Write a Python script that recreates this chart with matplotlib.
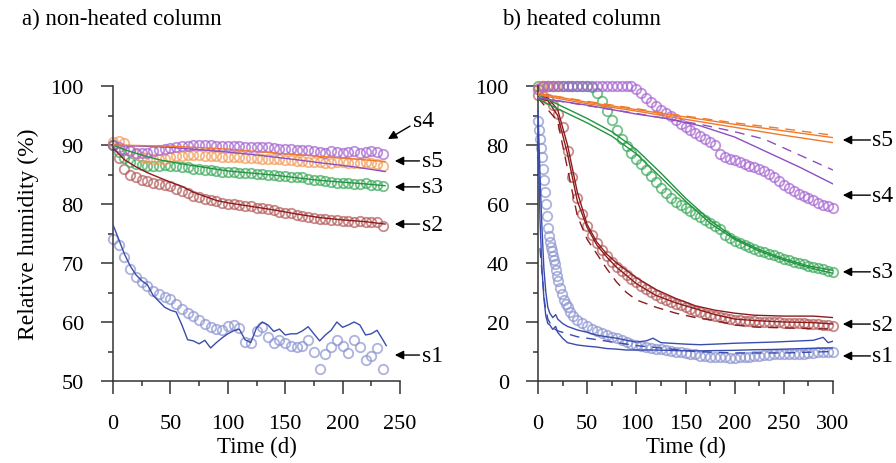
import numpy as np
import matplotlib.pyplot as plt
from matplotlib.ticker import MultipleLocator

plt.rcParams['font.family'] = ['Liberation Serif', 'DejaVu Serif']

# ---------------- a) non-heated column ----------------
a_days = np.arange(0, 240, 5)

a_s1_obs = [74, 73, 71, 69, 67.6, 66.8, 66.1, 65.3, 64.7, 64.3,
            63.9, 63, 62.2, 61.5, 61, 60.3, 59.7, 59.2, 58.8, 58.6,
            59.3, 59.5, 59, 56.6, 56.5, 58.5, 59.2, 57.5, 56.5, 57,
            56.5, 56, 55.8, 56, 57, 55, 52, 54.5, 55.8, 57,
            56, 54.8, 57, 55.8, 53.6, 54.2, 55.6, 52]
a_s2_obs = [90, 87.8, 86, 85, 84.5, 84.1, 83.9, 83.6, 83.4, 83.2,
            83, 82.6, 82.2, 81.8, 81.4, 81.2, 80.9, 80.7, 80.5, 80.2,
            80, 80, 79.8, 79.7, 79.6, 79.4, 79.4, 79.2, 79, 78.7,
            78.5, 78.4, 78.2, 78, 77.8, 77.7, 77.5, 77.4, 77.3, 77.3,
            77.2, 77.1, 77.0, 77.1, 77.0, 77.0, 76.9, 76.3]
a_s3_obs = [90, 88.8, 87.8, 87.2, 86.8, 86.6, 86.5, 86.5, 86.5, 86.6,
            86.5, 86.4, 86.3, 86.2, 86.0, 85.9, 85.8, 85.7, 85.6, 85.5,
            85.5, 85.4, 85.3, 85.2, 85.2, 85.1, 85.1, 85, 84.9, 84.8,
            84.7, 84.6, 84.5, 84.5, 84.3, 84.1, 84, 83.9, 83.7, 83.6,
            83.5, 83.5, 83.4, 83.4, 83.5, 83.3, 83.2, 83]
a_s4_obs = [90, 89.6, 89.2, 88.9, 88.7, 88.6, 88.7, 88.9, 89.1, 89.3,
            89.5, 89.7, 89.8, 89.9, 90, 90, 90, 90, 89.9, 89.9,
            89.9, 89.8, 89.8, 89.7, 89.7, 89.7, 89.7, 89.6, 89.5, 89.4,
            89.3, 89.3, 89.2, 89.2, 89.1, 89.0, 88.8, 88.7, 88.9, 88.8,
            88.7, 88.8, 89.0, 88.7, 88.8, 89.0, 88.8, 88.4]
a_s5_obs = [90.5, 90.6, 90.3, 89.2, 88.4, 88, 87.8, 87.6, 87.6, 87.7,
            87.9, 88.1, 88.2, 88.3, 88.3, 88.3, 88.2, 88.1, 88.1, 88,
            88, 87.9, 87.9, 87.8, 87.8, 87.8, 87.7, 87.7, 87.6, 87.6,
            87.5, 87.4, 87.3, 87.3, 87.2, 87.2, 87.1, 87, 87, 87.1,
            87.2, 87, 86.9, 87, 87.1, 87, 86.8, 86.5]

a_s1_sim_t = [0, 5, 10, 15, 20, 25, 30, 35, 40, 45, 50, 55, 60, 65, 70, 75, 80, 85,
              90, 95, 100, 105, 110, 115, 120, 125, 130, 135, 140, 145, 150, 155,
              160, 165, 170, 175, 180, 185, 190, 195, 200, 205, 210, 215, 220, 225,
              230, 235, 238]
a_s1_sim = [76.5, 74, 71.5, 69.5, 68, 67, 66.3, 64.5, 63.5, 62.5, 62, 61.7, 59.5, 57,
            56.8, 56.3, 56.9, 55.6, 56.5, 57.3, 58, 58.5, 58.8, 57, 56.5, 59, 60,
            59.5, 58.4, 58.8, 57.8, 58, 58, 58.5, 59.2, 58, 56.8, 57.8, 58.6, 60,
            59.1, 59.5, 60, 59.5, 57.8, 58, 58.6, 57, 56]
a_s2_sim_t = [0, 10, 20, 30, 40, 50, 60, 70, 80, 90, 100, 120, 140, 160, 180, 200, 220, 237]
a_s2_sim = [89.5, 87.5, 86.3, 85.3, 84.5, 83.7, 83, 82, 81.3, 80.6, 80.2, 79.6, 79,
            78.3, 77.7, 77.3, 77, 76.6]
a_s3_sim_t = [0, 10, 25, 40, 60, 80, 100, 140, 180, 220, 237]
a_s3_sim = [90, 89.2, 88.3, 87.5, 86.8, 86.2, 85.6, 84.9, 84, 83.4, 83.1]
a_s4_sim_t = [0, 50, 100, 130, 160, 180, 210, 237]
a_s4_sim = [90, 89.6, 88.8, 88.2, 87.5, 87, 86.3, 85.5]
a_s5_sim_t = [0, 50, 100, 150, 200, 237]
a_s5_sim = [90, 89.8, 89.3, 88.5, 87.8, 87.2]

# ---------------- b) heated column ----------------
b_days = np.arange(0, 305, 5)

b_s1_t = [0, 1, 2, 3, 4, 5, 6, 7, 8, 9, 10, 11, 12, 13, 14, 15, 16, 17, 18, 19, 20,
          22, 24, 26, 28, 30, 33, 36, 40, 45, 50, 55, 60, 65, 70, 75, 80, 85, 90,
          95, 100, 105, 110, 115, 120, 125, 130, 135, 140, 145, 150, 155, 160, 165,
          170, 175, 180, 185, 190, 195, 200, 205, 210, 215, 220, 225, 230, 235, 240,
          245, 250, 255, 260, 265, 270, 275, 280, 285, 290, 295, 300]
b_s1_obs = [88, 85, 82, 79, 76, 72, 68, 64, 60, 56, 52, 49, 47, 45.5, 44, 42.5, 41,
            39.5, 37.5, 35.5, 34, 31.5, 29.5, 27.5, 26, 25, 23.5, 22, 20.7, 19.5,
            18.5, 17.7, 17, 16.2, 15.5, 15, 14.5, 13.8, 13.2, 12.6, 12.2, 11.8, 11.5,
            11.2, 11, 10.7, 10.4, 10.2, 10, 9.8, 9.6, 9.2, 9, 8.6, 8.4, 8.3, 8.2, 8,
            8, 7.8, 7.8, 8, 8.1, 8.2, 8.4, 8.6, 8.8, 8.9, 9, 9, 9.1, 9.2, 9.2, 9.3,
            9.3, 9.5, 9.6, 9.7, 9.8, 10, 10]
b_s2_obs = [97, 96.5, 95.5, 93.5, 90.5, 86, 78, 69, 62, 56.5,
            52.5, 49.5, 46.8, 44.5, 42.3, 40.3, 38.8, 37.3, 36, 34.7,
            33.5, 32.3, 31.2, 30.2, 29.2, 28.3, 27.5, 26.8, 26.2, 25.6,
            25, 24.4, 23.8, 23.3, 22.8, 22.4, 22, 21.7, 21.3, 21,
            20.8, 20.6, 20.5, 20.3, 20.2, 20.1, 20, 20, 19.9, 19.9,
            19.8, 19.8, 19.7, 19.6, 19.5, 19.4, 19.3, 19.2, 19.1, 19, 18.8]
b_s3_obs = [100, 100, 100, 100, 100, 100, 100, 100, 100, 100, 100,
            99.5, 97.5, 95, 91.5, 88.5, 85, 82, 79.5, 77.3, 75.3,
            73.5, 71.5, 69.5, 67.5, 65.5, 63.8, 62.2, 60.8, 59.6, 58.5,
            57.5, 56.5, 55.5, 54.5, 53.5, 52.5, 51.5, 49.5, 48.5, 47.5,
            46.8, 46, 45.4, 44.8, 44.2, 43.7, 43.1, 42.6, 42, 41.5,
            41, 40.5, 40, 39.5, 39, 38.6, 38.2, 37.8, 37.3, 36.8]
b_s4_obs = [99, 100, 100, 100, 100, 100, 100, 100, 100, 100,
            100, 100, 100, 100, 100, 100, 100, 100, 100, 100,
            99, 97.5, 96, 94.7, 93.3, 92, 90.8, 89.8, 88.5, 87.2,
            86.2, 85.2, 84, 83, 82, 81, 80, 77, 76, 75.4,
            74.8, 74.2, 73.6, 73, 72.4, 71.8, 71.2, 70.3, 69.3, 67.8,
            66.5, 65.3, 64.3, 63.4, 62.6, 61.9, 61.2, 60.5, 59.8, 59.2, 58.5]
b_s5_t = [0, 3, 6, 9, 12, 15, 18]
b_s5_obs = [99, 100, 100, 100, 100, 100, 100]

b_s1_simA_t = [0, 2, 4, 6, 8, 10, 12, 15, 18, 20, 25, 30, 40, 50, 60, 70, 80, 90, 100,
               110, 117, 125, 135, 150, 165, 180, 200, 220, 240, 260, 280, 290, 295, 300]
b_s1_simA = [92, 70, 52, 38, 30, 25, 23, 21.5, 22.5, 21, 19.5, 18.5, 17.3, 16.5, 15.5,
             15, 14.5, 13.8, 13.2, 13.6, 14.5, 13, 12.8, 12.5, 12.3, 12.5, 12.8, 13,
             13.2, 13.5, 13.8, 14.8, 13, 13.5]
b_s1_simB_t = [0, 2, 4, 6, 8, 10, 12, 15, 18, 20, 25, 30, 40, 50, 60, 70, 80, 90, 100,
               120, 140, 160, 180, 200, 220, 240, 260, 280, 300]
b_s1_simB = [85, 55, 38, 28, 22, 19.5, 19, 17.5, 18.5, 16.5, 14.5, 13, 12.2, 11.8, 11.5,
             11, 10.8, 10.5, 10.5, 10.5, 10.3, 10.2, 10.3, 10.4, 10.6, 10.7, 10.9,
             11.1, 11.2]
b_s1_simC_t = [2, 4, 7, 10, 15, 20, 30, 40, 60, 80, 100, 130, 160, 200, 250, 300]
b_s1_simC = [45, 37, 26, 21, 18, 17, 16, 15, 14, 13, 12, 11, 10, 9.5, 9.5, 10]

b_s2_simA_t = [0, 10, 20, 30, 40, 50, 60, 70, 80, 100, 120, 140, 160, 180, 200, 220,
               250, 280, 300]
b_s2_simA = [97, 96, 92, 80, 64, 53, 47, 43, 40, 35, 31, 28, 25.5, 24, 23, 22.3, 22,
             22, 21.5]
b_s2_simB = [96, 95, 90, 77, 61, 52, 46, 42, 38.5, 33, 29, 26.5, 24.5, 22.5, 21, 20.5,
             20, 19.8, 19.3]
b_s2_simC_t = [0, 20, 30, 40, 50, 60, 70, 80, 90, 100, 120, 140, 160, 180, 200, 220,
               250, 300]
b_s2_simC = [96, 88, 72, 56, 48, 43, 38, 33.5, 30, 27.5, 25, 23, 21.5, 20.5, 19,
             18.3, 18, 17.6]

b_s3_sim_t = [0, 25, 50, 75, 100, 125, 150, 175, 200, 225, 250, 275, 300]
b_s3_simA = [97, 93, 89, 84.5, 78.5, 70.5, 62, 54.5, 48.5, 44.5, 41.5, 39, 37.5]
b_s3_simB = [95.5, 91.5, 87.5, 83, 77, 69, 61, 53.5, 48, 44, 41, 38.5, 36.5]

b_s4_simA_t = [0, 50, 100, 130, 165, 200, 233, 266, 300]
b_s4_simA = [96, 93.5, 90.5, 89, 86.5, 82.7, 77.6, 72.5, 66.8]
b_s4_simB_t = [0, 100, 165, 200, 230, 260, 300]
b_s4_simB = [96, 90.7, 87, 84.5, 82, 77.5, 71.5]

b_s5_sim_t = [0, 50, 100, 150, 200, 250, 300]
b_s5_simA = [97.5, 94.5, 92, 89.5, 87, 84.8, 82.5]
b_s5_simB = [97, 94, 91.5, 88.7, 86, 83.3, 80.8]
b_s5_simC = [97.5, 94.8, 92.3, 89.8, 87.5, 85.5, 83.3]

line_c = {'s1': '#3a4cae', 's2': '#8c1c1c', 's3': '#22953f', 's4': '#8e4fc0', 's5': '#f07a2a'}
mark_c = {'s1': '#8a93d0', 's2': '#b25a5a', 's3': '#3aa85a', 's4': '#a463d0', 's5': '#f39a55'}


def circles(ax, t, v, key):
    ax.plot(t, v, 'o', ms=6.8, mfc='none', mec=mark_c[key], mew=1.3, alpha=0.7,
            clip_on=False, zorder=2)


def sim(ax, t, v, key, ls='-'):
    l, = ax.plot(t, v, color=line_c[key], lw=1.0, zorder=3)
    if ls == '--':
        l.set_dashes((7, 5))


def style(ax, ylo, yhi, ymaj, ymin, xhi):
    ax.set_xlim(0, xhi)
    ax.set_ylim(ylo, yhi)
    ax.xaxis.set_major_locator(MultipleLocator(50))
    ax.xaxis.set_minor_locator(MultipleLocator(25))
    ax.yaxis.set_major_locator(MultipleLocator(ymaj))
    ax.yaxis.set_minor_locator(MultipleLocator(ymin))
    for s in ['top', 'right']:
        ax.spines[s].set_visible(False)
    for s in ['left', 'bottom']:
        ax.spines[s].set_color('#333333')
        ax.spines[s].set_linewidth(1.1)
    ax.tick_params(which='major', direction='out', length=9, width=1.1,
                   color='#333333', labelsize=16)
    ax.tick_params(which='minor', direction='out', length=3.6, width=1.1,
                   color='#333333')
    ax.tick_params(axis='y', which='major', pad=12)
    ax.tick_params(axis='x', which='major', pad=15)
    ax.set_xlabel('Time (d)', fontsize=16.5, labelpad=2)


def tag(ax, text, xy, xytext, textpos=None):
    ax.annotate('', xy=xy, xytext=xytext, annotation_clip=False,
                arrowprops=dict(arrowstyle='-|>', color='black', lw=1.0,
                                mutation_scale=13, shrinkA=0, shrinkB=0))
    if textpos is None:
        textpos = (xytext[0] + 2, xytext[1])
    ax.text(textpos[0], textpos[1], text, fontsize=17, va='center', ha='left',
            clip_on=False)


fig = plt.figure(figsize=(8.96, 4.64), dpi=100)
ax1 = fig.add_axes([113 / 896, 1 - 382 / 464, 287 / 896, 295 / 464])
ax2 = fig.add_axes([538 / 896, 1 - 382 / 464, 295 / 896, 295 / 464])

# panel a
circles(ax1, a_days, a_s1_obs, 's1')
circles(ax1, a_days, a_s2_obs, 's2')
circles(ax1, a_days, a_s3_obs, 's3')
circles(ax1, a_days, a_s5_obs, 's5')
circles(ax1, a_days, a_s4_obs, 's4')
sim(ax1, a_s1_sim_t, a_s1_sim, 's1')
sim(ax1, a_s2_sim_t, a_s2_sim, 's2')
sim(ax1, a_s3_sim_t, a_s3_sim, 's3')
sim(ax1, a_s4_sim_t, a_s4_sim, 's4')
sim(ax1, a_s5_sim_t, a_s5_sim, 's5')
style(ax1, 50, 100, 10, 5, 250)
ax1.set_ylabel('Relative humidity (%)', fontsize=17, labelpad=8)

tag(ax1, 's4', (239.5, 91.0), (258.7, 93.2), (261, 94.2))
tag(ax1, 's5', (245.5, 87.3), (267, 87.3))
tag(ax1, 's3', (245.5, 82.9), (267, 82.9))
tag(ax1, 's2', (245.5, 76.6), (267, 76.6))
tag(ax1, 's1', (245.5, 54.4), (267, 54.4))

# panel b
circles(ax2, b_days, b_s3_obs, 's3')
circles(ax2, b_days, b_s2_obs, 's2')
circles(ax2, b_s1_t, b_s1_obs, 's1')
circles(ax2, b_s5_t, b_s5_obs, 's5')
circles(ax2, b_days, b_s4_obs, 's4')
sim(ax2, b_s1_simA_t, b_s1_simA, 's1')
sim(ax2, b_s1_simB_t, b_s1_simB, 's1')
sim(ax2, b_s1_simC_t, b_s1_simC, 's1', '--')
sim(ax2, b_s2_simA_t, b_s2_simA, 's2')
sim(ax2, b_s2_simA_t, b_s2_simB, 's2')
sim(ax2, b_s2_simC_t, b_s2_simC, 's2', '--')
sim(ax2, b_s3_sim_t, b_s3_simA, 's3')
sim(ax2, b_s3_sim_t, b_s3_simB, 's3')
sim(ax2, b_s4_simA_t, b_s4_simA, 's4')
sim(ax2, b_s4_simB_t, b_s4_simB, 's4', '--')
sim(ax2, b_s5_sim_t, b_s5_simA, 's5')
sim(ax2, b_s5_sim_t, b_s5_simB, 's5')
sim(ax2, b_s5_sim_t, b_s5_simC, 's5', '--')
style(ax2, 0, 100, 20, 10, 300)

tag(ax2, 's5', (310, 81.7), (338, 81.7))
tag(ax2, 's4', (310, 63.0), (338, 63.0))
tag(ax2, 's3', (310, 37.0), (338, 37.0))
tag(ax2, 's2', (310, 19.3), (338, 19.3))
tag(ax2, 's1', (310, 8.5), (338, 8.5))

fig.text(22 / 896, 1 - 19 / 464, 'a) non-heated column', fontsize=16.5, va='center')
fig.text(502 / 896, 1 - 19 / 464, 'b) heated column', fontsize=16.5, va='center')

fig.savefig('out.png', dpi=100)
